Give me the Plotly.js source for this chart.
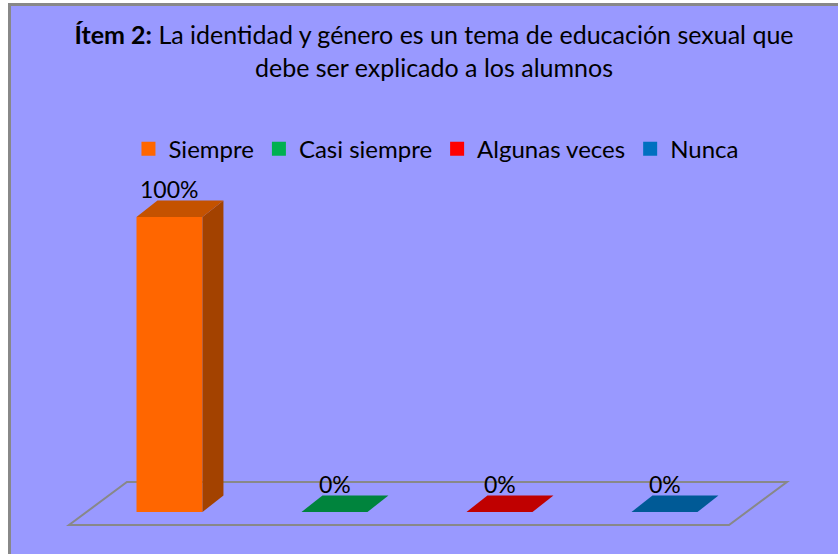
<!DOCTYPE html>
<html>
<head>
<meta charset="utf-8">
<script src="https://cdn.plot.ly/plotly-3.0.1.min.js"></script>
<style>
  html, body { margin: 0; padding: 0; background: #ffffff; overflow: hidden; }
  #frame {
    position: absolute; left: 8px; top: 3px;
    width: 827px; height: 548px;
    border-left: 3px solid #888888; border-top: 3px solid #888888;
    background: #9999ff; overflow: hidden;
  }
  #chart { width: 827px; height: 548px; }
</style>
</head>
<body>
<div id="frame"><div id="chart"></div></div>
<script>
  // Chart data
  const categories = ['Siempre', 'Casi siempre', 'Algunas veces', 'Nunca'];
  const percentages = [100, 0, 0, 0];
  const frontColors = ['#FF6600', '#00B050', '#FF0000', '#0070C0'];
  const topColors = ['#C45200', '#00843D', '#C00000', '#005A96'];
  const sideColors = ['#A34200', '#006B32', '#9C0000', '#004A7C'];

  // fake 3D look (in axis units)
  const barWidth = 0.4;
  const depthX = 0.127;
  const depthY = 5.6;
  const floorFront = { dx: -0.109, dy: -4.41 };
  const floorBack = { dx: 0.242, dy: 10.17 };
  const font = 'Lato, "Open Sans", sans-serif';

  const data = [];
  const annotations = [];

  // front faces
  categories.forEach((cat, i) => {
    data.push({
      type: 'bar',
      x: [i],
      y: [percentages[i]],
      width: barWidth,
      name: cat,
      showlegend: false,
      marker: { color: frontColors[i], line: { width: 0 } },
      hoverinfo: 'skip'
    });
  });

  // legend entries (bigger squares than the bar legend swatch)
  categories.forEach((cat, i) => {
    data.push({
      type: 'scatter',
      x: [null],
      y: [null],
      mode: 'markers',
      name: cat,
      marker: { symbol: 'square', size: 14, color: frontColors[i], line: { width: 0 } },
      hoverinfo: 'skip'
    });
  });

  // side and top faces
  categories.forEach((cat, i) => {
    const v = percentages[i];
    const l = i - barWidth / 2;
    const r = i + barWidth / 2;
    if (v > 0) {
      data.push({
        type: 'scatter',
        x: [r, r + depthX, r + depthX, r, r],
        y: [0, depthY, v + depthY, v, 0],
        fill: 'toself',
        fillcolor: sideColors[i],
        mode: 'lines',
        line: { width: 0 },
        showlegend: false,
        hoverinfo: 'skip'
      });
    }
    data.push({
      type: 'scatter',
      x: [l, r, r + depthX, l + depthX, l],
      y: [v, v, v + depthY, v + depthY, v],
      fill: 'toself',
      fillcolor: topColors[i],
      mode: 'lines',
      line: { width: 0 },
      showlegend: false,
      hoverinfo: 'skip'
    });

    annotations.push({
      x: i,
      y: v + depthY,
      xref: 'x',
      yref: 'y',
      text: v + '%',
      showarrow: false,
      yanchor: 'bottom',
      yshift: -5,
      font: { family: font, size: 23, color: '#000000' }
    });
  });

  // floor parallelogram
  const n = categories.length;
  const x0 = -0.5, x1 = n - 0.5;
  const floorPath =
    'M' + (x0 + floorFront.dx) + ',' + floorFront.dy +
    ' L' + (x1 + floorFront.dx) + ',' + floorFront.dy +
    ' L' + (x1 + floorBack.dx) + ',' + floorBack.dy +
    ' L' + (x0 + floorBack.dx) + ',' + floorBack.dy + ' Z';

  const layout = {
    width: 827,
    height: 548,
    paper_bgcolor: '#9999ff',
    plot_bgcolor: '#9999ff',
    font: { family: font, color: '#000000' },
    margin: { l: 29, r: 38, t: 174, b: 14 },
    barmode: 'overlay',
    hovermode: false,
    title: {
      text: '<b>Ítem 2:</b> La identidad y género es un tema de educación sexual que<br>debe ser explicado a los alumnos',
      font: { family: font, size: 25, color: '#000000' },
      xref: 'container',
      yref: 'container',
      x: 0.5115,
      xanchor: 'center',
      y: 0.93,
      yanchor: 'top'
    },
    showlegend: true,
    legend: {
      orientation: 'h',
      x: 0.521,
      xanchor: 'center',
      y: 1.086,
      yanchor: 'middle',
      font: { family: font, size: 24, color: '#000000' },
      bgcolor: 'rgba(0,0,0,0)',
      traceorder: 'normal'
    },
    xaxis: {
      range: [-0.7848, 3.8212],
      visible: false,
      fixedrange: true
    },
    yaxis: {
      range: [-9.49, 112.54],
      visible: false,
      fixedrange: true
    },
    shapes: [{
      type: 'path',
      path: floorPath,
      xref: 'x',
      yref: 'y',
      layer: 'below',
      line: { color: '#888888', width: 2 },
      fillcolor: 'rgba(0,0,0,0)'
    }],
    annotations: annotations
  };

  Plotly.newPlot('chart', data, layout, { displayModeBar: false, staticPlot: true });
</script>
</body>
</html>
